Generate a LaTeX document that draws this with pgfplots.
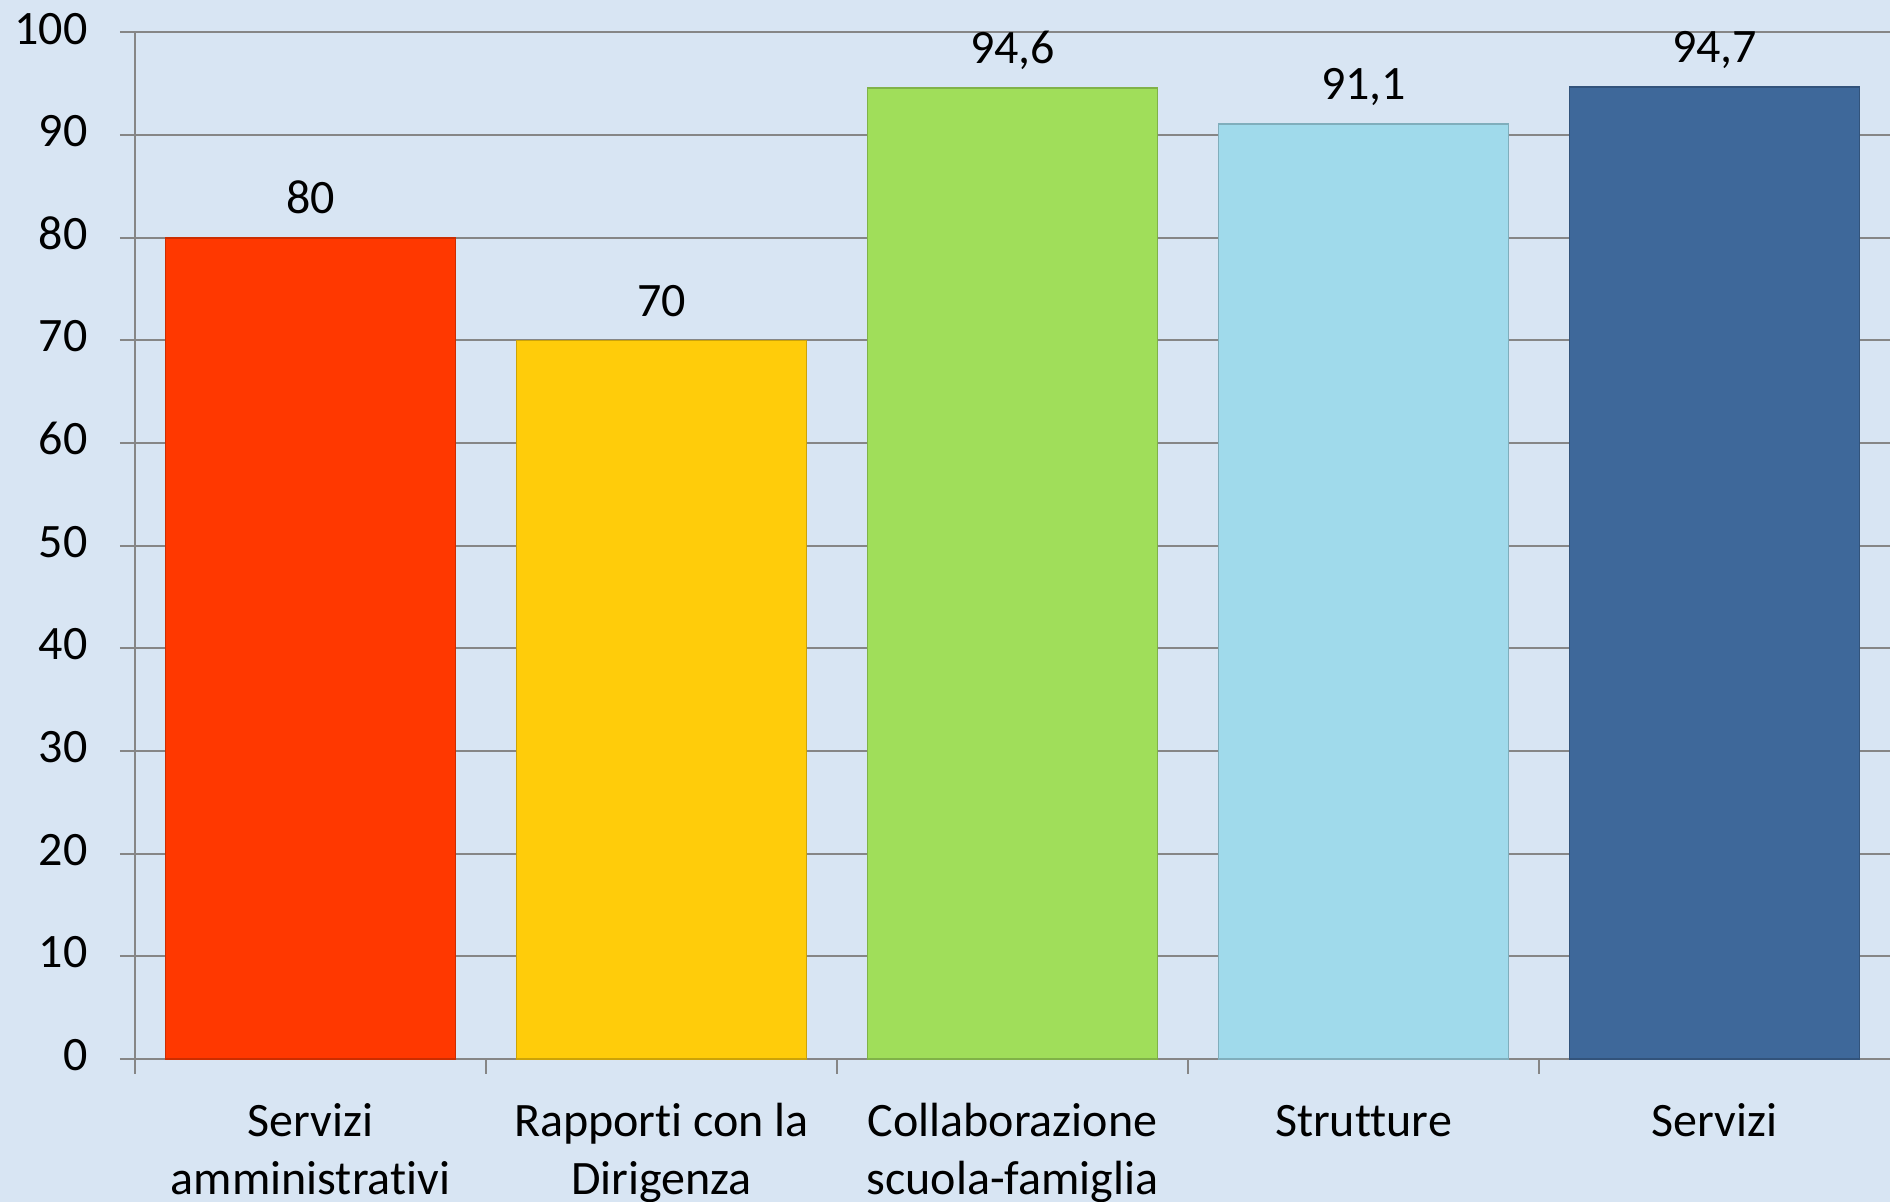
\documentclass[border=0pt]{standalone}
\usepackage{pgfplots}
\pgfplotsset{compat=1.18}
\usepackage{fontspec}
\setmainfont{Carlito}[Ligatures={NoCommon,NoRare,NoContextual}]
\definecolor{bgc}{RGB}{216,229,243}
\definecolor{axgray}{RGB}{134,134,134}
\definecolor{cred}{RGB}{255,56,0}
\definecolor{cyel}{RGB}{255,204,10}
\definecolor{cgrn}{RGB}{160,222,90}
\definecolor{clbl}{RGB}{160,218,235}
\definecolor{cdbl}{RGB}{62,104,154}
\begin{document}
\begin{tikzpicture}
\useasboundingbox (0,0) rectangle (567pt,360.6pt);
\fill[bgc] (0,0) rectangle (567pt,360.6pt);
\begin{axis}[
  at={(40.5pt,42.9pt)}, anchor=south west,
  scale only axis, width=526.5pt, height=307.95pt,
  xmin=-0.5, xmax=4.5, ymin=0, ymax=100,
  axis x line=bottom, axis y line=left,
  axis line style={-, draw=axgray, line width=0.6pt},
  ytick={0,10,...,100},
  ymajorgrids, grid style={draw=axgray, line width=0.6pt},
  ytick style={draw=axgray, line width=0.6pt},
  tick align=outside, major tick length=4.5pt,
  xtick={0,1,2,3,4},
  xticklabels={{Servizi\\amministrativi},{Rapporti con la\\Dirigenza},{Collaborazione\\scuola-famiglia},{Strutture},{Servizi}},
  xtick style={draw=none},
  extra x ticks={-0.5,0.5,1.5,2.5,3.5},
  extra x tick labels={},
  extra x tick style={xtick style={draw=axgray, line width=0.6pt}, grid=none},
  /pgf/number format/assume math mode=true,
  tick label style={font=\fontsize{14.4}{17.3}\selectfont, text=black},
  typeset ticklabels with strut,
  xticklabel style={align=center, anchor=north, inner sep=0pt, yshift=-6.5pt},
  yticklabel style={anchor=east, inner sep=0pt, xshift=-9.6pt},
  nodes near coords={\pgfmathprintnumber[use comma,fixed,precision=1]{\pgfplotspointmeta}},
  nodes near coords style={font=\fontsize{14.4}{17.3}\selectfont, text=black, anchor=base, inner sep=0pt, yshift=7.3pt},
  clip=false,
]
\addplot[ybar, bar shift=0pt, bar width=87pt, fill=cred, draw=cred!80!black, line width=0.5pt] coordinates {(0,80)};
\addplot[ybar, bar shift=0pt, bar width=87pt, fill=cyel, draw=cyel!80!black, line width=0.5pt] coordinates {(1,70)};
\addplot[ybar, bar shift=0pt, bar width=87pt, fill=cgrn, draw=cgrn!80!black, line width=0.5pt] coordinates {(2,94.6)};
\addplot[ybar, bar shift=0pt, bar width=87pt, fill=clbl, draw=clbl!80!black, line width=0.5pt] coordinates {(3,91.1)};
\addplot[ybar, bar shift=0pt, bar width=87pt, fill=cdbl, draw=cdbl!80!black, line width=0.5pt] coordinates {(4,94.7)};
\end{axis}
\end{tikzpicture}
\end{document}
